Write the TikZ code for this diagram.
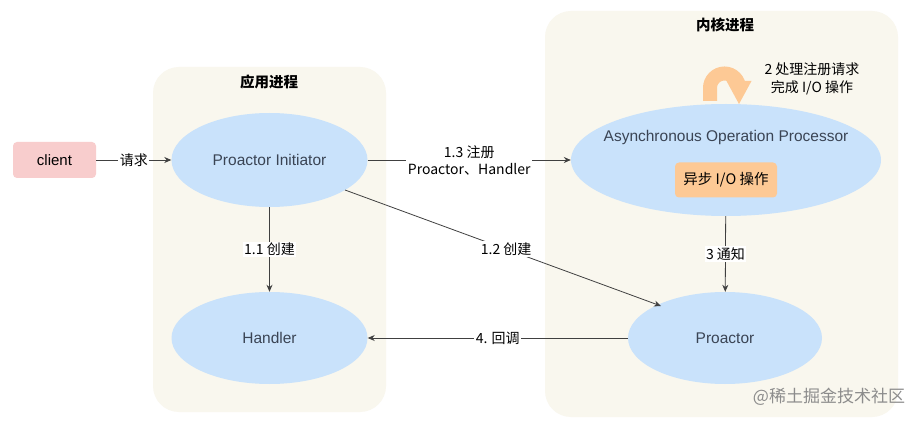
\documentclass[tikz,border=0pt]{standalone}
\usepackage{fontspec}
\setmainfont{Liberation Sans}
\newfontfamily\cjk{Noto Sans CJK SC}
\usetikzlibrary{arrows.meta,shapes.geometric}
\definecolor{panel}{HTML}{F9F7EE}
\definecolor{ell}{HTML}{C9E2FB}
\definecolor{clientc}{HTML}{F8CDCD}
\definecolor{orangec}{HTML}{FDC995}
\definecolor{txt}{HTML}{3A4454}
\tikzset{
  panelbox/.style={fill=panel,draw=none,rounded corners=26pt},
  ellnode/.style={ellipse,fill=ell,draw=none,inner sep=0pt,text=txt,font=\fontsize{15.5}{18}\selectfont},
  title/.style={font=\cjk\bfseries\fontsize{14.5}{16}\selectfont},
  lbl/.style={fill=white,inner sep=1.5pt,font=\cjk\fontsize{14}{17}\selectfont,align=center},
  conn/.style={draw=black!75,line width=0.8pt,-{Stealth[length=7pt,width=6pt]}}
}
\begin{document}
\begin{tikzpicture}[x=1pt,y=-1pt]
\useasboundingbox[fill=white] (0,0) rectangle (924,422);
% panels
\path[panelbox] (153,67) rectangle (386,412);
\path[panelbox] (545,11) rectangle (898,417);
\node[title] (t1) at (269,82) {应用进程};
\node[title] (t2) at (725,25) {内核进程};
% client
\node[fill=clientc,rounded corners=4pt,minimum width=83pt,minimum height=36pt,inner sep=0pt,font=\fontsize{15}{17}\selectfont] (client) at (54.5,160) {client};
% ellipses
\node[ellnode,minimum width=196pt,minimum height=94pt] (pi) at (269.5,160) {Proactor Initiator};
\node[ellnode,minimum width=196pt,minimum height=92pt] (h) at (269.5,338) {Handler};
\node[ellnode,minimum width=310pt,minimum height=112pt] (aop) at (726,160) {};
\node[text=txt,font=\fontsize{15.5}{18}\selectfont] (aoptext) at (726,137) {Asynchronous Operation Processor};
\node[fill=orangec,rounded corners=4pt,minimum width=102pt,minimum height=35pt,inner sep=0pt,font=\cjk\fontsize{14.5}{17}\selectfont] (io) at (726,180) {异步 I/O 操作};
\node[ellnode,minimum width=194pt,minimum height=92pt] (p) at (725,338) {Proactor};
% U-turn arrow
\coordinate (ua) at (710,101);
\coordinate (ub) at (739,83);
\draw[orangec,line width=14pt] (ua) -- (710,88) arc[start angle=180,end angle=360,radius=14.5] -- (ub);
\fill[orangec] (726.5,81) -- (751.5,81) -- (739,104) -- cycle;
\node[font=\cjk\fontsize{14}{18}\selectfont,align=center] (l2) at (812,79) {2 处理注册请求\\完成 I/O 操作};
% connectors
\draw[conn] (client) -- node[lbl] (lq) {请求} (pi);
\draw[conn] (pi) -- node[lbl] (l11) {1.1 创建} (h);
\draw[conn] (pi) -- node[lbl,pos=0.5] (l13) {1.3 注册\\Proactor、Handler} (aop);
\coordinate (s12) at (345,190);
\coordinate (e12) at (661,306);
\draw[conn] (s12) -- node[lbl,pos=0.51] (l12) {1.2 创建} (e12);
\draw[conn] (aop) -- node[lbl,pos=0.5] (l3) {3 通知} (p);
\draw[conn] (p) -- node[lbl,pos=0.5] (l4) {4. 回调} (h);
% watermark
\node[text=black!45,font=\cjk\fontsize{17}{20}\selectfont] (wm) at (829,397) {@稀土掘金技术社区};
\end{tikzpicture}
\end{document}
